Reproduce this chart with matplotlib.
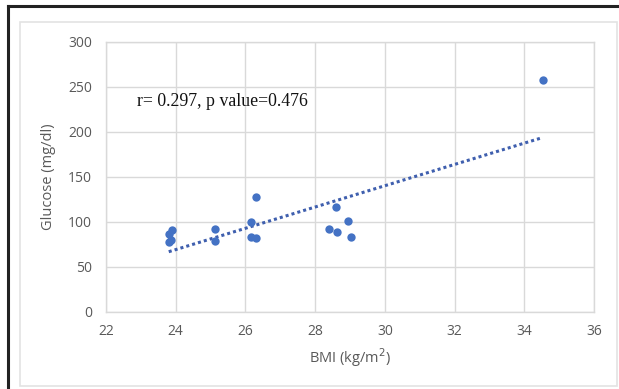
import numpy as np
import matplotlib
matplotlib.use("Agg")
import matplotlib.pyplot as plt
from matplotlib.patches import Rectangle
from matplotlib.lines import Line2D

bmi = [23.89, 23.82, 23.87, 23.80, 25.13, 25.13, 26.29, 26.17, 26.17, 26.30,
       28.61, 28.41, 28.62, 28.95, 29.03, 34.53]
glucose = [91, 86, 80, 77, 92, 78.5, 127, 100, 83, 81.5,
           116, 91.5, 88.5, 101, 83, 257]
x_ticks = [22, 24, 26, 28, 30, 32, 34, 36]
y_ticks = [0, 50, 100, 150, 200, 250, 300]
annotation = "r= 0.297, p value=0.476"

W, H = 619, 389
fig = plt.figure(figsize=(W / 100, H / 100), dpi=100)
fig.patch.set_facecolor("white")

# inner chart area border
fig.patches.append(Rectangle((20 / W, 3 / H), (W - 22) / W, (H - 25) / H, transform=fig.transFigure,
                             fill=False, edgecolor="#e3e3e3", linewidth=1.2))
# outer black frame: top and left only
fig.lines.append(Line2D([8 / W, 8 / W], [0, 1 - 6 / H], transform=fig.transFigure,
                        color="#222222", linewidth=2.2))
fig.lines.append(Line2D([8 / W, 1], [1 - 6 / H, 1 - 6 / H], transform=fig.transFigure,
                        color="#222222", linewidth=2.2))

left, right, top, bottom = 106, 594, 41.7, 311.7
ax = fig.add_axes([left / W, 1 - bottom / H, (right - left) / W, (bottom - top) / H])
ax.set_xlim(22, 36)
ax.set_ylim(0, 300)
ax.set_xticks(x_ticks)
ax.set_yticks(y_ticks)
ax.grid(True, color="#d9d9d9", linewidth=1.0)
ax.set_axisbelow(True)
for s in ax.spines.values():
    s.set_color("#d9d9d9")
    s.set_linewidth(1.0)
ax.tick_params(length=0, labelsize=10, labelcolor="#595959")
ax.tick_params(axis="x", pad=9)
ax.tick_params(axis="y", pad=10)
for lab in ax.get_xticklabels() + ax.get_yticklabels():
    lab.set_fontfamily("Open Sans")

ax.scatter(bmi, glucose, s=36, color="#4472C4", zorder=3, linewidths=0)

coef = np.polyfit(bmi, glucose, 1)
xs = np.array([min(bmi), max(bmi)])
ax.plot(xs, np.polyval(coef, xs), linestyle=(0, (1, 1)), color="#3f5fae",
        linewidth=2.2, zorder=2)

ax.set_xlabel("BMI (kg/m$^2$)", fontsize=10.5, color="#595959", family="Open Sans", labelpad=5)
ax.set_ylabel("Glucose (mg/dl)", fontsize=10.5, color="#595959", family="Open Sans", labelpad=9)

ax.text(22.88, 233, annotation, fontsize=12.8, family="Liberation Serif", color="#111111",
        va="center", ha="left")

fig.savefig("out.png", dpi=100)
